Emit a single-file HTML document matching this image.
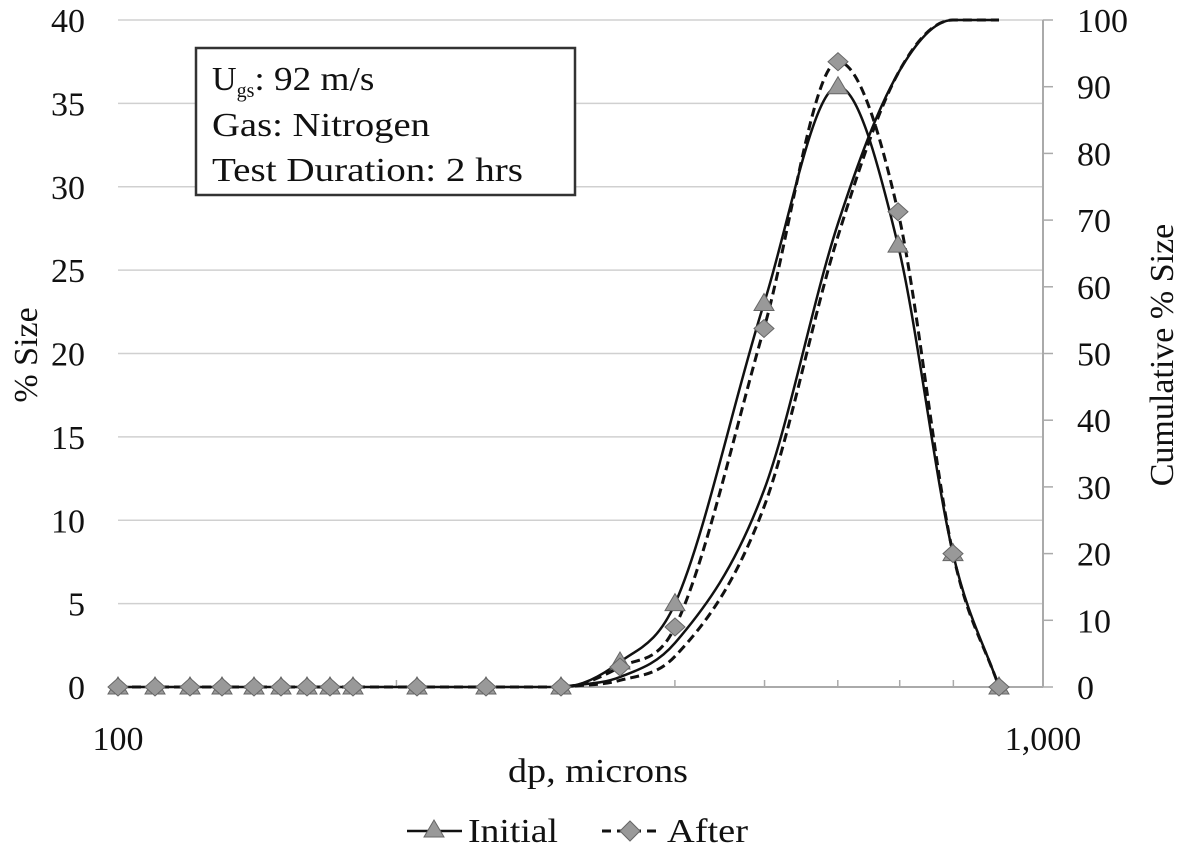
<!DOCTYPE html>
<html><head><style>body{margin:0;background:#fff}svg text{font-family:"Liberation Serif",serif;fill:#111}</style></head>
<body>
<svg id="s" width="1181" height="847" viewBox="0 0 1181 847" xmlns="http://www.w3.org/2000/svg">
<g id="grid" stroke="#d0d0d0" stroke-width="1.5"></g>
<line x1="1043" y1="20" x2="1043" y2="687" stroke="#aaa" stroke-width="2"/>
<line x1="118" y1="687" x2="1043" y2="687" stroke="#aaa" stroke-width="2"/>
<g id="ticks" stroke="#aaa" stroke-width="1.5"></g>
<g id="labels" font-size="34"></g>
<g id="series"></g>
<rect x="196" y="48" width="379" height="147" fill="#fff" stroke="#333" stroke-width="2.5"/>
<text x="212" y="90" font-size="34">U<tspan font-size="20" dy="7">gs</tspan><tspan dy="-7" textLength="120" lengthAdjust="spacingAndGlyphs">: 92 m/s</tspan></text>
<text x="212" y="136" font-size="34" textLength="218" lengthAdjust="spacingAndGlyphs">Gas: Nitrogen</text>
<text x="212" y="181" font-size="34" textLength="311" lengthAdjust="spacingAndGlyphs">Test Duration: 2 hrs</text>
<text x="118" y="750" font-size="34" text-anchor="middle">100</text>
<text x="1043" y="750" font-size="34" text-anchor="middle">1,000</text>
<text x="508" y="782" font-size="34" textLength="180" lengthAdjust="spacingAndGlyphs">dp, microns</text>
<text transform="translate(37,355) rotate(-90)" font-size="34" text-anchor="middle">% Size</text>
<text transform="translate(1173,355) rotate(-90)" font-size="34" text-anchor="middle">Cumulative % Size</text>
<line x1="407" y1="831" x2="462" y2="831" stroke="#111" stroke-width="2.5"/>
<polygon points="434,820 444,837 424,837" fill="#999" stroke="#666"/>
<text x="468" y="842" font-size="34" textLength="90" lengthAdjust="spacingAndGlyphs">Initial</text>
<line x1="602" y1="831" x2="658" y2="831" stroke="#111" stroke-width="3" stroke-dasharray="9,6"/>
<polygon points="630,821 640,831 630,841 620,831" fill="#999" stroke="#666"/>
<text x="667" y="842" font-size="34" textLength="81" lengthAdjust="spacingAndGlyphs">After</text>
</svg>
<script>
const NS="http://www.w3.org/2000/svg";
function el(t,a,p){const e=document.createElementNS(NS,t);for(const k in a)e.setAttribute(k,a[k]);document.getElementById(p).appendChild(e);return e;}
for(let i=0;i<=8;i++){const y=687-i*83.375;if(i>0)el('line',{x1:118,y1:y,x2:1043,y2:y},'grid');
 const t=el('text',{x:85,y:y+12,'text-anchor':'end'},'labels');t.textContent=i*5;}
for(let i=0;i<=10;i++){const y=687-i*66.7;const r=el('text',{x:1077,y:y+12},'labels');r.textContent=i*10;el('line',{x1:1043,y1:y,x2:1053,y2:y},'ticks');}
for(let d=200;d<=900;d+=100){const x=118+925*Math.log10(d/100);el('line',{x1:x,y1:680,x2:x,y2:687},'ticks');}
const X=[118,155,190,222,254,281,307,330,353,417,486,561,620,675,764,838,898,953,999];
const z=new Array(12).fill(0);
const ini=[...z,1.5,5,23,36,26.5,8,0];
const aft=[...z,1.2,3.6,21.5,37.5,28.5,8,0];
const ciX=[561,620,675,764,838,898,953,999],ci=[0,1.5,6.6,29.5,69.5,92,100,100],ca=[0,1.0,4.6,27,67.6,92,100,100];
function path(xs,ys){const n=xs.length,d=[],m=new Array(n);
 for(let i=0;i<n-1;i++)d.push((ys[i+1]-ys[i])/(xs[i+1]-xs[i]));
 m[0]=d[0];m[n-1]=d[n-2];
 for(let i=1;i<n-1;i++){m[i]=(d[i-1]*d[i]<=0)?0:(d[i-1]+d[i])/2;}
 for(let i=0;i<n-1;i++){if(d[i]==0){m[i]=0;m[i+1]=0;continue;}const a=m[i]/d[i],b=m[i+1]/d[i],s=a*a+b*b;if(s>9){const t=3/Math.sqrt(s);m[i]=t*a*d[i];m[i+1]=t*b*d[i];}}
 let p='M'+xs[0]+','+ys[0];
 for(let i=0;i<n-1;i++){const h=(xs[i+1]-xs[i])/3;p+=`C${xs[i]+h},${ys[i]+m[i]*h} ${xs[i+1]-h},${ys[i+1]-m[i+1]*h} ${xs[i+1]},${ys[i+1]}`;}
 return p;}
const py=v=>687-v*16.675,cy=v=>687-v*6.67;
el('path',{d:path(ciX,ci.map(cy)),fill:'none',stroke:'#111','stroke-width':2.5},'series');
el('path',{d:path(ciX,ca.map(cy)),fill:'none',stroke:'#111','stroke-width':3,'stroke-dasharray':'9,5'},'series');
el('path',{d:path(X,ini.map(py)),fill:'none',stroke:'#111','stroke-width':2.5},'series');
el('path',{d:path(X,aft.map(py)),fill:'none',stroke:'#111','stroke-width':3,'stroke-dasharray':'9,5'},'series');
X.forEach((x,i)=>{const y=py(ini[i]);el('polygon',{points:`${x},${y-10} ${x+10},${y+7} ${x-10},${y+7}`,fill:'#999',stroke:'#666'},'series');});
X.forEach((x,i)=>{const y=py(aft[i]);el('polygon',{points:`${x},${y-9} ${x+10},${y} ${x},${y+9} ${x-10},${y}`,fill:'#999',stroke:'#666'},'series');});
</script>
</body></html>
